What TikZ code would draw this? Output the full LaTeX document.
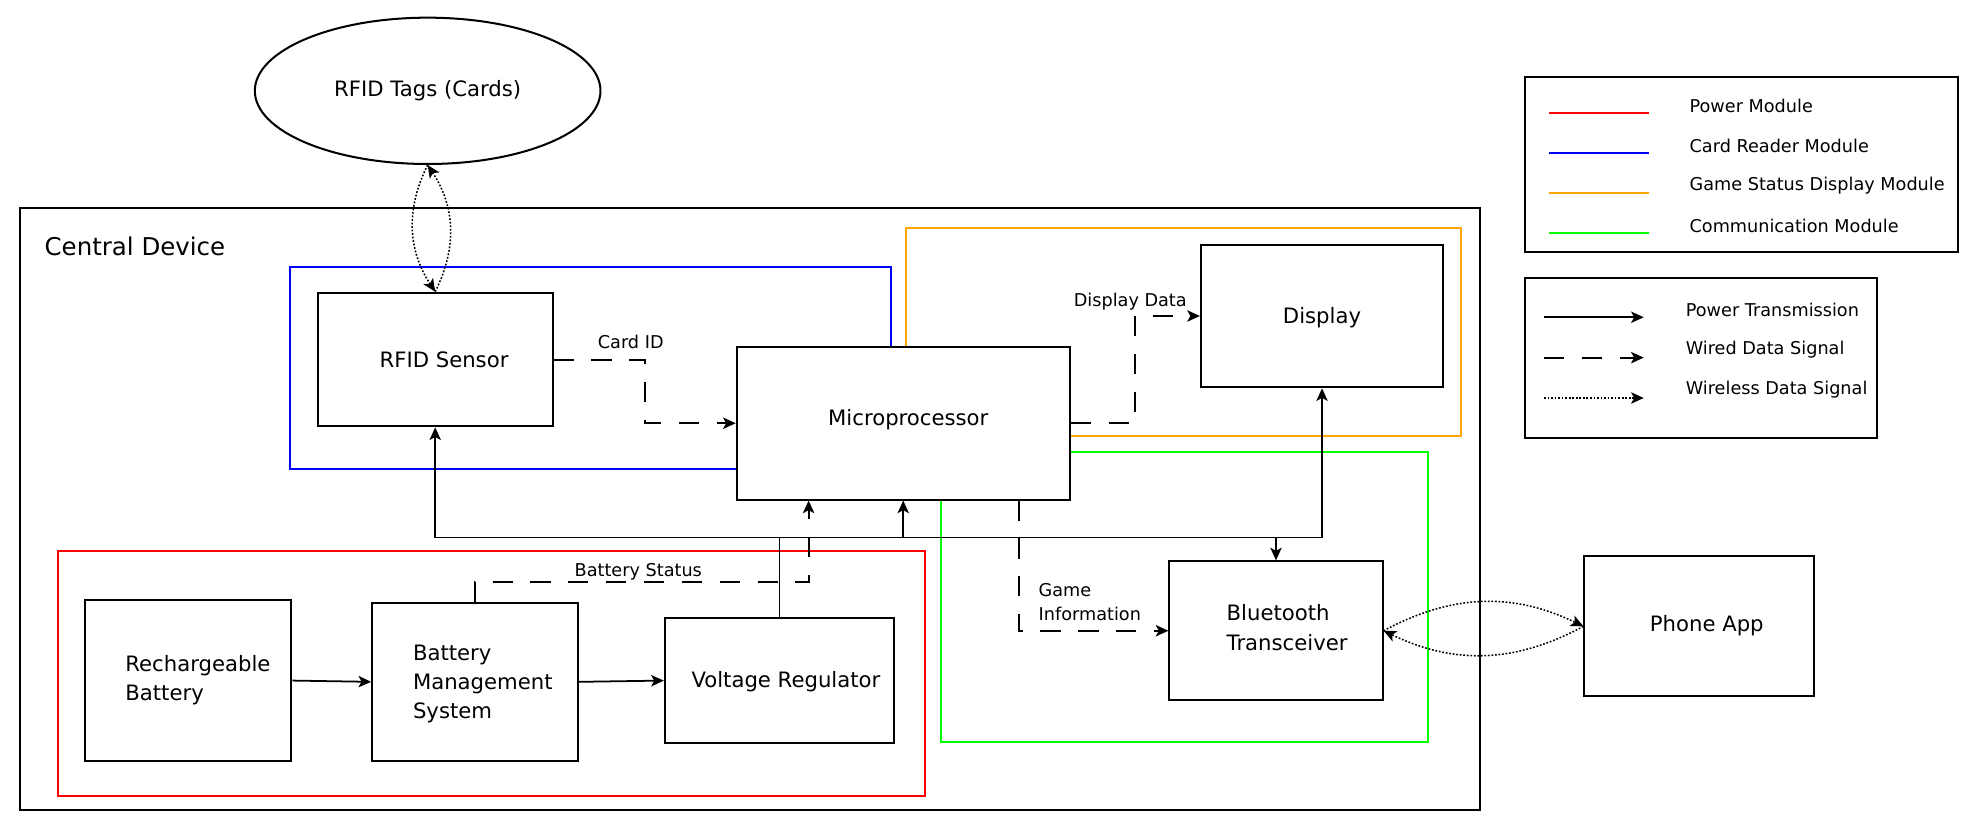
\documentclass[tikz,border=0pt]{standalone}
\usepackage{fontspec}
\setmainfont{DejaVu Sans}
\usetikzlibrary{arrows.meta,calc,shapes.geometric}
\definecolor{pmred}{RGB}{255,0,0}
\definecolor{crblue}{RGB}{0,0,255}
\definecolor{gsorange}{RGB}{255,165,0}
\definecolor{cmgreen}{RGB}{0,255,0}
\begin{document}
\begin{tikzpicture}[x=0.5pt,y=-0.5pt,
  box/.style={draw, line width=0.8pt, fill=white, inner sep=0pt},
  btxt/.style={inner sep=0pt, font=\fontsize{8.4}{11.5}\selectfont},
  lbl/.style={font=\fontsize{7}{9.5}\selectfont, inner sep=0pt},
  tip/.style={-{Stealth[length=5pt,width=4.5pt,inset=1.2pt]}},
  power/.style={line width=0.7pt, tip},
  powerline/.style={line width=0.7pt},
  wired/.style={line width=0.8pt, dash pattern=on 8pt off 7pt, tip},
  wless/.style={line width=0.6pt, dash pattern=on 0.7pt off 0.7pt, tip},
  modbox/.style={line width=0.8pt}
]
\useasboundingbox (0,0) rectangle (1568,665);

% central device
\draw[line width=0.8pt] (16,165) rectangle (1173,642);
\node[anchor=west, inner sep=0pt, font=\fontsize{9.7}{12}\selectfont] (cdlabel) at (35,195) {Central Device};

% module boxes
\draw[crblue, modbox] (230,212) rectangle (706,372);
\draw[gsorange, modbox] (718,181) rectangle (1158,346);
\draw[cmgreen, modbox] (746,358) rectangle (1132,588);
\draw[pmred, modbox] (46,437) rectangle (733,631);

% nodes (boxes)
\node[box, ellipse, minimum width=137pt, minimum height=58pt] (tags) at (339,72) {};
\node[box, minimum width=93pt, minimum height=53pt] (sensor) at (345,285) {};
\node[box, minimum width=132pt, minimum height=60.5pt] (mp) at (716,335.5) {};
\node[box, minimum width=96pt, minimum height=56.5pt] (disp) at (1048,250.5) {};
\node[box, minimum width=82pt, minimum height=63.5pt] (batt) at (149,539.5) {};
\node[box, minimum width=81.5pt, minimum height=62.5pt] (bms) at (376.5,540.5) {};
\node[box, minimum width=91pt, minimum height=49.5pt] (vr) at (618,539.5) {};
\node[box, minimum width=84.5pt, minimum height=55pt] (bt) at (1011.5,500) {};
\node[box, minimum width=91pt, minimum height=55.5pt] (phone) at (1347,496.5) {};

% box texts
\node[btxt] (tagstxt) at (339,72) {RFID Tags (Cards)};
\node[btxt] (sensortxt) at (352,285) {RFID Sensor};
\node[btxt] (mptxt) at (720,333) {Microprocessor};
\node[btxt] (disptxt) at (1048,252) {Display};
\node[btxt, align=left, anchor=west] (batttxt) at (99,539.5) {Rechargeable\\Battery};
\node[btxt, align=left, anchor=west] (bmstxt) at (327,542.5) {Battery\\Management\\System};
\node[btxt] (vrtxt) at (623,540) {Voltage Regulator};
\node[btxt, align=left, anchor=west] (bttxt) at (972,497.5) {Bluetooth\\Transceiver};
\node[btxt] (phonetxt) at (1353,496) {Phone App};

% wireless
\draw[wless] (tags.south) to[bend right=30] (sensor.north);
\draw[wless] (sensor.north) to[bend right=30] (tags.south);
\draw[wless] (bt.east) to[bend left=27] (phone.west);
\draw[wless] (phone.west) to[bend left=27] (bt.east);

% wired data
\coordinate (m1) at ($(sensor.east)!0.5!(mp.west)$);
\draw[wired] (sensor.east) -| (m1) |- (mp.west);
\node[lbl] (cardid) at (500,271) {Card ID};
\coordinate (m2) at ($(mp.east)!0.5!(disp.west)$);
\draw[wired] (mp.east) -| (m2) |- (disp.west);
\node[lbl] (dispdata) at (896,239) {Display Data};
\draw[wired] ([xshift=46pt]mp.south) |- (bt.west);
\node[lbl, align=left, anchor=west] (gameinfo) at (823,477.5) {Game\\Information};
\draw[wired] (bms.north) -- ++(0,-16) -| ([xshift=-37.5pt]mp.south);
\node[lbl] (batstat) at (506,453) {Battery Status};

% power
\coordinate (bus) at (618,426);
\draw[powerline] (vr.north) -- (bus);
\draw[power] (bus) -| (sensor.south);
\draw[power] (bus) -| (mp.south);
\draw[power] (bus) -| (disp.south);
\draw[power] (bus -| bt.north) -- (bt.north);
\draw[power] (batt.east) -- (bms.west);
\draw[power] (bms.east) -- (vr.west);

% legend 1
\draw[line width=0.8pt] (1209,61) rectangle (1552,200);
\draw[pmred, line width=0.8pt] (1228,89.5) -- (1307,89.5);
\draw[crblue, line width=0.8pt] (1228,121) -- (1307,121);
\draw[gsorange, line width=0.8pt] (1228,153) -- (1307,153);
\draw[cmgreen, line width=0.8pt] (1228,184.5) -- (1307,184.5);
\node[lbl, anchor=west] (l1) at (1339,84) {Power Module};
\node[lbl, anchor=west] (l2) at (1339,116) {Card Reader Module};
\node[lbl, anchor=west] (l3) at (1339,147.5) {Game Status Display Module};
\node[lbl, anchor=west] (l4) at (1339,179) {Communication Module};

% legend 2
\draw[line width=0.8pt] (1209,220) rectangle (1488,347);
\draw[power] (1224,251.5) -- (1303,251.5);
\draw[wired] (1224,283.5) -- (1303,283.5);
\draw[wless] (1224,315.5) -- (1303,315.5);
\node[lbl, anchor=west] (l5) at (1336,246) {Power Transmission};
\node[lbl, anchor=west] (l6) at (1336,277.5) {Wired Data Signal};
\node[lbl, anchor=west] (l7) at (1336,309) {Wireless Data Signal};
\end{tikzpicture}
\end{document}
